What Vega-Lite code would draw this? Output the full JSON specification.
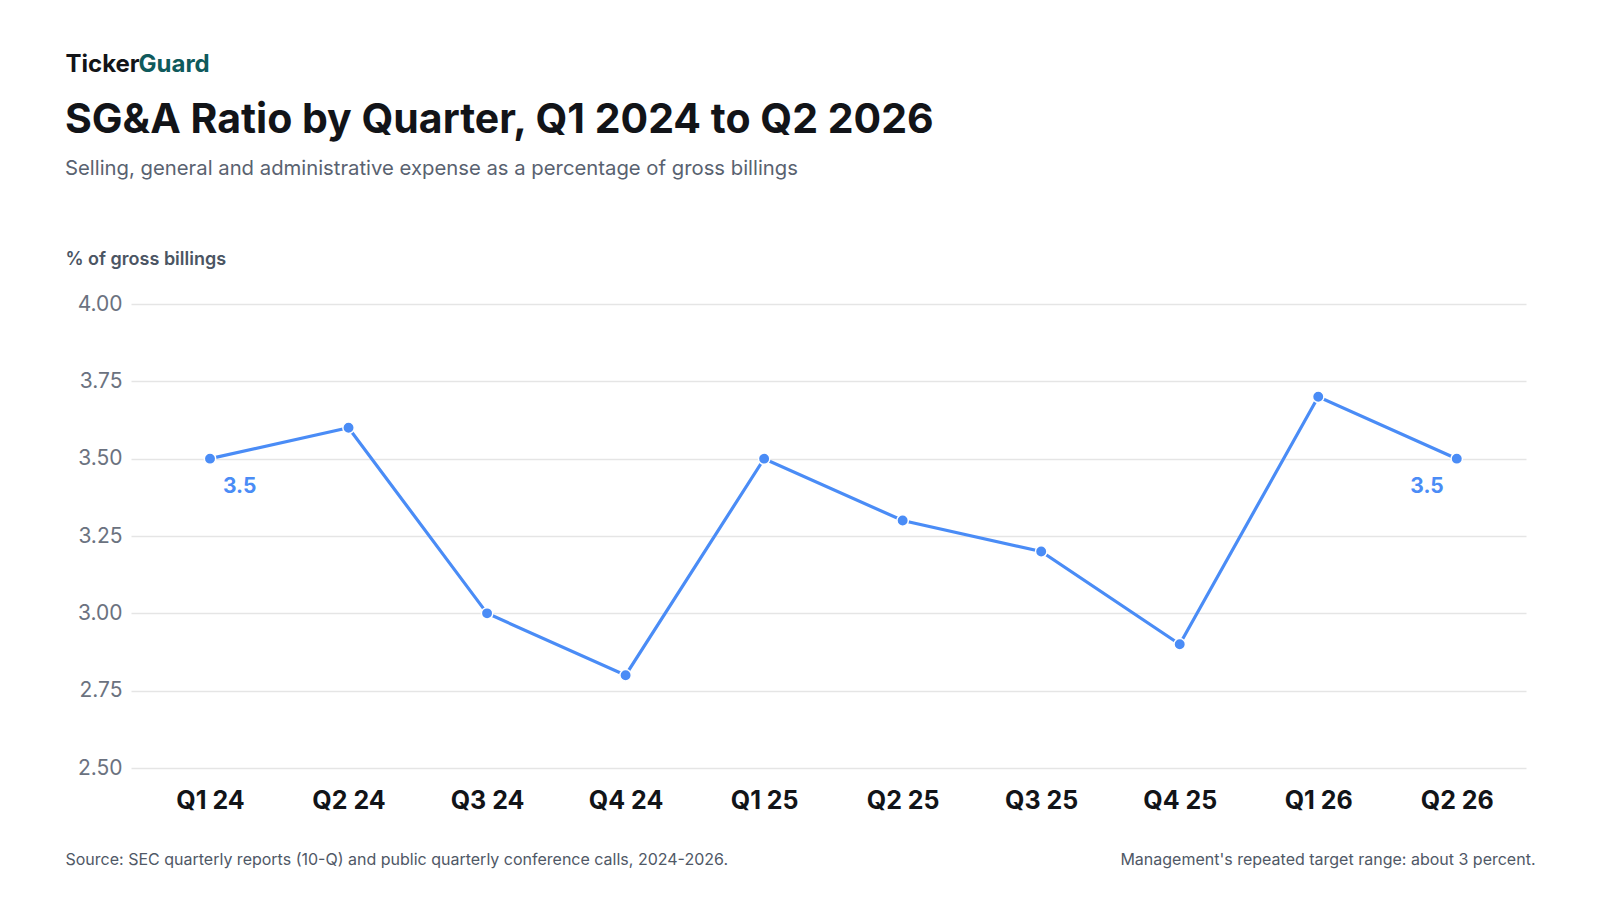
{
  "$schema": "https://vega.github.io/schema/vega-lite/v6.json",
  "autosize": {"type": "none"},
  "padding": {"left": 131, "top": 304, "right": 74, "bottom": 132},
  "width": 1395,
  "height": 464,
  "background": "#ffffff",
  "title": {
    "text": "SG&A Ratio by Quarter, Q1 2024 to Q2 2026",
    "subtitle": "Selling, general and administrative expense as a percentage of gross billings",
    "anchor": "start",
    "frame": "group",
    "baseline": "top",
    "dx": -66,
    "offset": -128,
    "font": "Inter",
    "fontSize": 41,
    "fontWeight": 700,
    "color": "#121418",
    "subtitleFont": "Inter",
    "subtitleFontSize": 20.3,
    "subtitleFontWeight": 400,
    "subtitleColor": "#596270",
    "subtitlePadding": 17
  },
  "config": {
    "font": "Inter",
    "view": {"stroke": null},
    "axis": {"titleFont": "Inter", "labelFont": "Inter"}
  },
  "data": {
    "values": [
      {"quarter": "Q1 24", "ratio": 3.5},
      {"quarter": "Q2 24", "ratio": 3.6},
      {"quarter": "Q3 24", "ratio": 3.0},
      {"quarter": "Q4 24", "ratio": 2.8},
      {"quarter": "Q1 25", "ratio": 3.5},
      {"quarter": "Q2 25", "ratio": 3.3},
      {"quarter": "Q3 25", "ratio": 3.2},
      {"quarter": "Q4 25", "ratio": 2.9},
      {"quarter": "Q1 26", "ratio": 3.7},
      {"quarter": "Q2 26", "ratio": 3.5}
    ]
  },
  "layer": [
    {
      "mark": {"type": "line", "color": "#4a8cf6", "strokeWidth": 3.2},
      "encoding": {
        "x": {
          "field": "quarter",
          "type": "ordinal",
          "scale": {
            "type": "point",
            "domain": ["Q1 24", "Q2 24", "Q3 24", "Q4 24", "Q1 25", "Q2 25", "Q3 25", "Q4 25", "Q1 26", "Q2 26"],
            "padding": 0.535,
            "align": 0.533
          },
          "axis": {
            "orient": "bottom",
            "domain": false,
            "ticks": false,
            "tickSize": 0,
            "grid": false,
            "labelAngle": 0,
            "labelFontSize": 25,
            "labelFontWeight": 700,
            "labelColor": "#121418",
            "labelPadding": 20,
            "title": "Source: SEC quarterly reports (10-Q) and public quarterly conference calls, 2024-2026.",
            "titleFontSize": 16,
            "titleFontWeight": 400,
            "titleColor": "#4f5866",
            "titleAlign": "left",
            "titleBaseline": "alphabetic",
            "titleAngle": 0,
            "titleX": -66,
            "titleY": 96
          }
        },
        "y": {
          "field": "ratio",
          "type": "quantitative",
          "scale": {"domain": [2.5, 4], "nice": false, "zero": false},
          "axis": {
            "orient": "left",
            "values": [2.5, 2.75, 3, 3.25, 3.5, 3.75, 4],
            "format": ".2f",
            "domain": false,
            "ticks": false,
            "tickSize": 0,
            "grid": true,
            "gridColor": "#e5e5e5",
            "gridWidth": 1.5,
            "labelFontSize": 21,
            "labelFontWeight": 400,
            "labelColor": "#6b7280",
            "labelPadding": 9,
            "title": "% of gross billings",
            "titleFontSize": 18,
            "titleFontWeight": 600,
            "titleColor": "#4b5563",
            "titleAlign": "left",
            "titleBaseline": "alphabetic",
            "titleAngle": 0,
            "titleX": -66,
            "titleY": -40
          }
        }
      }
    },
    {
      "mark": {"type": "point", "filled": true, "color": "#4a8cf6", "size": 130, "stroke": "#ffffff", "strokeWidth": 1.5, "opacity": 1},
      "encoding": {
        "x": {"field": "quarter", "type": "ordinal", "axis": null},
        "y": {"field": "ratio", "type": "quantitative", "axis": null}
      }
    },
    {
      "transform": [{"filter": "datum.quarter === 'Q1 24'"}],
      "mark": {"type": "text", "align": "left", "baseline": "alphabetic", "dx": 13, "dy": 34, "fontSize": 21, "fontWeight": 700, "color": "#4a8cf6"},
      "encoding": {
        "x": {"field": "quarter", "type": "ordinal", "axis": null},
        "y": {"field": "ratio", "type": "quantitative", "axis": null},
        "text": {"field": "ratio", "type": "quantitative", "format": ".1f"}
      }
    },
    {
      "transform": [{"filter": "datum.quarter === 'Q2 26'"}],
      "mark": {"type": "text", "align": "right", "baseline": "alphabetic", "dx": -13, "dy": 34, "fontSize": 21, "fontWeight": 700, "color": "#4a8cf6"},
      "encoding": {
        "x": {"field": "quarter", "type": "ordinal", "axis": null},
        "y": {"field": "ratio", "type": "quantitative", "axis": null},
        "text": {"field": "ratio", "type": "quantitative", "format": ".1f"}
      }
    },
    {
      "mark": {"type": "point", "opacity": 0},
      "encoding": {
        "x": {
          "field": "quarter",
          "type": "ordinal",
          "axis": {
            "orient": "top",
            "labels": false,
            "ticks": false,
            "domain": false,
            "grid": false,
            "title": "Ticker",
            "titleFontSize": 24,
            "titleFontWeight": 700,
            "titleColor": "#121418",
            "titleAlign": "left",
            "titleBaseline": "alphabetic",
            "titleAngle": 0,
            "titleX": -66,
            "titleY": -233
          }
        },
        "y": {
          "field": "ratio",
          "type": "quantitative",
          "axis": {
            "orient": "right",
            "labels": false,
            "ticks": false,
            "domain": false,
            "grid": false,
            "title": "Guard",
            "titleFontSize": 24,
            "titleFontWeight": 700,
            "titleColor": "#0f5a5c",
            "titleAlign": "left",
            "titleBaseline": "alphabetic",
            "titleAngle": 0,
            "titleX": -1388,
            "titleY": -233
          }
        }
      }
    },
    {
      "mark": {"type": "point", "opacity": 0},
      "encoding": {
        "x": {
          "field": "quarter",
          "type": "ordinal",
          "axis": {
            "orient": "bottom",
            "labels": false,
            "ticks": false,
            "domain": false,
            "grid": false,
            "title": "Management's repeated target range: about 3 percent.",
            "titleFontSize": 16,
            "titleFontWeight": 400,
            "titleColor": "#4f5866",
            "titleAlign": "right",
            "titleBaseline": "alphabetic",
            "titleAngle": 0,
            "titleX": 1404,
            "titleY": 96
          }
        },
        "y": {"field": "ratio", "type": "quantitative", "axis": null}
      }
    }
  ],
  "resolve": {"axis": {"x": "independent", "y": "independent"}}
}
